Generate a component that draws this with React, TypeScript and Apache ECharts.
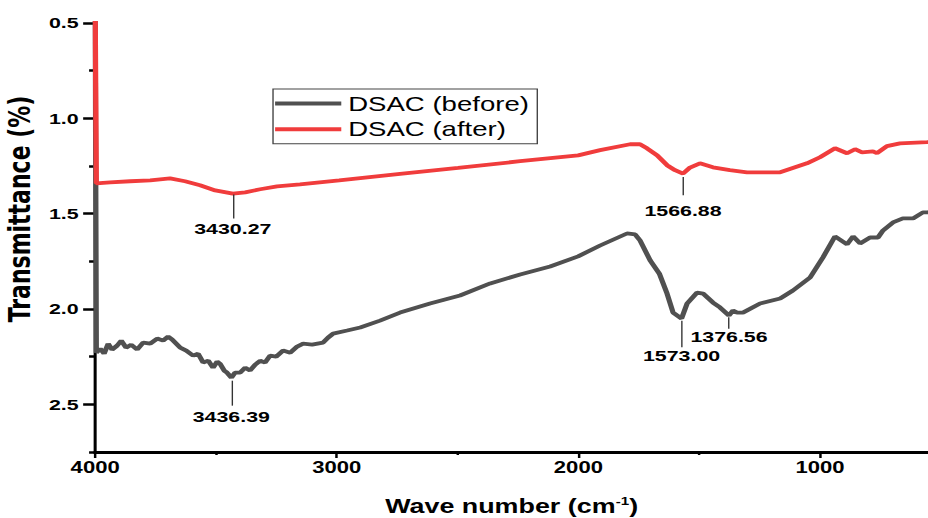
import React, { useEffect, useRef } from "react";
import * as echarts from "echarts";

// ---------- data ----------
const wnAfter = [4000, 3995, 3938, 3855, 3772, 3690, 3628, 3566, 3503, 3430, 3379, 3317, 3247, 3152, 2990, 2738, 2498, 2241, 2001, 1910, 1786, 1745, 1716, 1674, 1633, 1600, 1567, 1538, 1497, 1443, 1373, 1302, 1165, 1054, 1000, 938, 888, 855, 826, 781, 764, 723, 669, 557, 500];
const tAfter = [0.40, 1.341, 1.336, 1.330, 1.325, 1.315, 1.330, 1.351, 1.378, 1.395, 1.388, 1.372, 1.357, 1.346, 1.325, 1.291, 1.260, 1.225, 1.194, 1.167, 1.136, 1.136, 1.157, 1.194, 1.246, 1.272, 1.290, 1.258, 1.236, 1.257, 1.272, 1.283, 1.283, 1.236, 1.204, 1.157, 1.183, 1.162, 1.178, 1.173, 1.183, 1.146, 1.131, 1.125, 1.12];

const wnBefore = [4000, 3995, 3979, 3963, 3946, 3930, 3909, 3892, 3872, 3851, 3826, 3801, 3772, 3743, 3719, 3698, 3681, 3648, 3623, 3594, 3574, 3553, 3532, 3512, 3495, 3483, 3466, 3454, 3436, 3421, 3400, 3379, 3359, 3338, 3317, 3297, 3276, 3251, 3222, 3193, 3164, 3139, 3102, 3057, 3036, 3015, 2957, 2903, 2821, 2738, 2614, 2490, 2365, 2241, 2117, 2001, 1910, 1799, 1765, 1745, 1703, 1665, 1633, 1608, 1573, 1550, 1509, 1484, 1443, 1414, 1377, 1360, 1343, 1319, 1248, 1165, 1112, 1041, 988, 938, 888, 863, 834, 793, 760, 739, 698, 657, 615, 574, 553, 500];
const tBefore = [0.40, 2.229, 2.208, 2.234, 2.182, 2.213, 2.192, 2.166, 2.203, 2.187, 2.213, 2.176, 2.182, 2.155, 2.166, 2.145, 2.161, 2.203, 2.218, 2.245, 2.234, 2.281, 2.271, 2.308, 2.276, 2.287, 2.323, 2.334, 2.360, 2.334, 2.334, 2.308, 2.323, 2.292, 2.271, 2.281, 2.245, 2.250, 2.218, 2.229, 2.197, 2.182, 2.187, 2.176, 2.150, 2.129, 2.113, 2.097, 2.061, 2.019, 1.971, 1.929, 1.866, 1.819, 1.777, 1.724, 1.667, 1.604, 1.609, 1.640, 1.745, 1.814, 1.919, 2.019, 2.050, 1.971, 1.914, 1.919, 1.966, 1.992, 2.034, 2.008, 2.019, 2.019, 1.971, 1.945, 1.903, 1.835, 1.730, 1.619, 1.661, 1.619, 1.656, 1.625, 1.625, 1.588, 1.546, 1.525, 1.525, 1.493, 1.493, 1.48];

// peak annotations
const peaksAfterWn = [3430.27, 1566.88];
const peaksAfterFrom = [1.40, 1.308];
const peaksAfterTo = [1.525, 1.404];
const peaksBeforeWn = [3436.39, 1573.0, 1376.56];
const peaksBeforeFrom = [2.376, 2.061, 2.043];
const peaksBeforeTo = [2.507, 2.201, 2.104];

const seriesNames = ["DSAC (before)", "DSAC (after)"];
const xMajor = [1000, 2000, 3000, 4000];
const xMinor = [1500, 2500, 3500];
const yMajor = [0.5, 1.0, 1.5, 2.0, 2.5];
const yMinor = [0.75, 1.25, 1.75, 2.25, 2.75];

// ---------- layout ----------
const CW = 673;
const SX = 928 / CW;
const FONT = "'Liberation Sans', Arial, Helvetica, sans-serif";
const XMIN = 553;
const XMAX = 4000;
const YMIN = 0.5;
const YMAX = 2.75;

const peakLabelStyle = {
  show: true,
  position: "end",
  formatter: "{b}",
  fontFamily: FONT,
  fontWeight: "bold",
  fontSize: 15.5,
  color: "#000",
  distance: 2,
};

function peaksData(wn: number[], from: number[], to: number[], gaps: number[]) {
  return wn.map((w, i) => [
    { name: w.toFixed(2), coord: [w, from[i]], label: { distance: gaps[i] } },
    { coord: [w, to[i]] },
  ]);
}

function buildOption() {
  const xBase = {
    type: "value",
    inverse: true,
    min: XMIN,
    max: XMAX,
    position: "bottom",
    splitLine: { show: false },
  };
  const yBase = {
    type: "value",
    inverse: true,
    min: YMIN,
    max: YMAX,
    position: "left",
    splitLine: { show: false },
  };
  return {
    animation: false,
    backgroundColor: "#ffffff",
    textStyle: { fontFamily: FONT },
    grid: { left: 69, right: 0, top: 23, bottom: 66, containLabel: false, outerBoundsMode: "none" },
    legend: {
      orient: "vertical",
      left: 198,
      top: 89,
      padding: [4, 6, 4, 1.5],
      itemGap: 4.7,
      itemWidth: 48,
      itemHeight: 4,
      icon: "rect",
      borderColor: "#444",
      borderWidth: 1,
      data: seriesNames,
      textStyle: { fontFamily: FONT, fontSize: 20, color: "#000", lineHeight: 21 },
    },
    xAxis: [
      {
        ...xBase,
        axisLine: { show: true, onZero: false, lineStyle: { color: "#000", width: 3 } },
        axisTick: { show: true, length: 6, customValues: xMajor, lineStyle: { color: "#000", width: 1.8 } },
        axisLabel: {
          customValues: xMajor,
          margin: 8,
          fontFamily: FONT,
          fontSize: 16,
          fontWeight: "bold",
          color: "#000",
          formatter: (v: number) => String(v),
        },
        name: "Wave number (cm{sup|-1})",
        nameLocation: "middle",
        nameGap: 44,
        nameTextStyle: {
          fontFamily: FONT,
          fontWeight: "bold",
          fontSize: 19.5,
          color: "#000",
          rich: {
            sup: { fontFamily: FONT, fontWeight: "bold", fontSize: 11, color: "#000", verticalAlign: "top", lineHeight: 11 },
          },
        },
      },
      {
        ...xBase,
        axisLine: { show: false },
        axisTick: { show: true, length: 3, customValues: xMinor, lineStyle: { color: "#000", width: 1.8 } },
        axisLabel: { show: false },
      },
    ],
    yAxis: [
      {
        ...yBase,
        axisLine: { show: true, onZero: false, lineStyle: { color: "#000", width: 2.2 } },
        axisTick: { show: true, length: 8.7, customValues: yMajor, lineStyle: { color: "#000", width: 2.5 } },
        axisLabel: {
          customValues: yMajor,
          margin: 12,
          fontFamily: FONT,
          fontSize: 15.5,
          fontWeight: "bold",
          color: "#000",
          formatter: (v: number) => v.toFixed(1),
        },
        name: "Transmittance (%)",
        nameLocation: "middle",
        nameRotate: 90,
        nameGap: 38,
        nameTextStyle: {
          fontFamily: "'DejaVu Sans', sans-serif",
          fontWeight: "bold",
          fontSize: 22,
          color: "#000",
          padding: [0, 0, 0, 57],
        },
      },
      {
        ...yBase,
        axisLine: { show: false },
        axisTick: { show: true, length: 4.4, customValues: yMinor, lineStyle: { color: "#000", width: 2.5 } },
        axisLabel: { show: false },
      },
    ],
    series: [
      {
        name: seriesNames[0],
        type: "line",
        xAxisIndex: 0,
        yAxisIndex: 0,
        symbol: "none",
        showSymbol: false,
        clip: true,
        lineStyle: { color: "#505050", width: 3.8 },
        itemStyle: { color: "#505050" },
        data: wnBefore.map((w, i) => [w, tBefore[i]]),
        markLine: {
          silent: true,
          animation: false,
          symbol: ["none", "none"],
          lineStyle: { color: "#333", width: 1, type: "solid" },
          label: peakLabelStyle,
          emphasis: { disabled: true },
          data: peaksData(peaksBeforeWn, peaksBeforeFrom, peaksBeforeTo, [3, 0, 0]),
        },
      },
      {
        name: seriesNames[1],
        type: "line",
        xAxisIndex: 0,
        yAxisIndex: 0,
        symbol: "none",
        showSymbol: false,
        clip: true,
        lineStyle: { color: "#f03c3c", width: 3.8 },
        itemStyle: { color: "#f03c3c" },
        data: wnAfter.map((w, i) => [w, tAfter[i]]),
        markLine: {
          silent: true,
          animation: false,
          symbol: ["none", "none"],
          lineStyle: { color: "#333", width: 1, type: "solid" },
          label: peakLabelStyle,
          emphasis: { disabled: true },
          data: peaksData(peaksAfterWn, peaksAfterFrom, peaksAfterTo, [2, 7]),
        },
      },
    ],
  };
}

export default function App() {
  const ref = useRef<HTMLDivElement>(null);
  useEffect(() => {
    if (!ref.current) return;
    const chart = echarts.init(ref.current, null, { renderer: "svg" });
    chart.setOption(buildOption() as any);
    return () => chart.dispose();
  }, []);
  return (
    <div
      ref={ref}
      style={{
        position: "fixed",
        left: 0,
        top: 0,
        width: CW,
        height: 518,
        transform: `scaleX(${SX})`,
        transformOrigin: "0 0",
        background: "#fff",
      }}
    />
  );
}
